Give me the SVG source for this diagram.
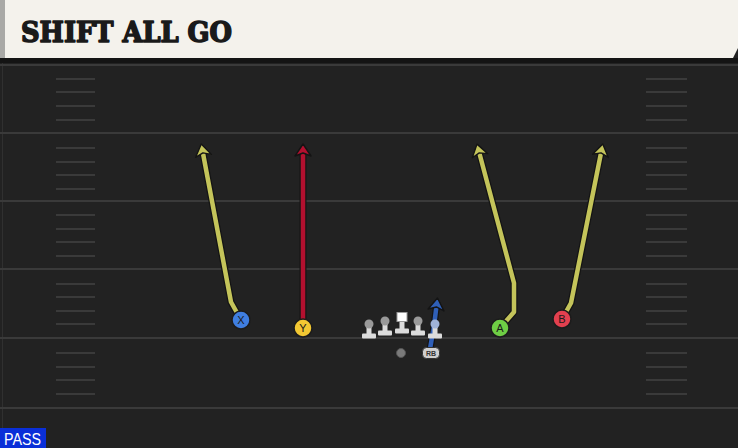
<svg xmlns="http://www.w3.org/2000/svg" width="738" height="448" viewBox="0 0 738 448">
  <style>
    .yard { stroke: #3a3a3a; stroke-width: 2; }
    .hash { stroke: #3a3a3a; stroke-width: 2; }
    .casing { fill: none; stroke: #141414; stroke-width: 7; stroke-linejoin: round; stroke-linecap: butt; }
    .route { fill: none; stroke-width: 4.5; stroke-linejoin: round; stroke-linecap: butt; }
    .olive { stroke: #c4c45a; }
    .red { stroke: #b3102f; }
    .blue { stroke: #2f5fb8; }
    .rcv { stroke: #1c1c1c; stroke-width: 1.5; }
    .rlabel { font-family: "Liberation Sans", Arial, sans-serif; font-size: 11px; fill: #1a1a1a; text-anchor: middle; }
    .lm { fill: #dcdcdc; }
    .head { fill: #9a9a9a; }
  </style>
  <defs>
    <marker id="hOlive" markerUnits="userSpaceOnUse" markerWidth="28" markerHeight="28" viewBox="-14 -14 28 28" refX="0" refY="0" orient="auto">
      <path d="M4,0 L-8,-8 L-5,0 L-8,8 z" fill="#c4c45a" stroke="#141414" stroke-width="1.4" stroke-linejoin="round"/>
    </marker>
    <marker id="hRed" markerUnits="userSpaceOnUse" markerWidth="28" markerHeight="28" viewBox="-14 -14 28 28" refX="0" refY="0" orient="auto">
      <path d="M4,0 L-8,-8 L-5,0 L-8,8 z" fill="#b3102f" stroke="#141414" stroke-width="1.4" stroke-linejoin="round"/>
    </marker>
    <marker id="hBlue" markerUnits="userSpaceOnUse" markerWidth="28" markerHeight="28" viewBox="-14 -14 28 28" refX="0" refY="0" orient="auto">
      <path d="M4,0 L-8,-8 L-5,0 L-8,8 z" fill="#2f5fb8" stroke="#141414" stroke-width="1.4" stroke-linejoin="round"/>
    </marker>
  </defs>

  <!-- field -->
  <rect x="0" y="0" width="738" height="448" fill="#222222"/>
  <line x1="2.5" y1="60" x2="2.5" y2="448" stroke="#303030" stroke-width="1"/>
  <g id="yardlines">
    <line class="yard" x1="0" y1="65" x2="738" y2="65"/>
    <line class="yard" x1="0" y1="133" x2="738" y2="133"/>
    <line class="yard" x1="0" y1="201" x2="738" y2="201"/>
    <line class="yard" x1="0" y1="269" x2="738" y2="269"/>
    <line class="yard" x1="0" y1="338" x2="738" y2="338"/>
    <line class="yard" x1="0" y1="408" x2="738" y2="408"/>
  </g>
  <g id="hashes">
    <path class="hash" d="M56,79H95M56,92H95M56,106H95M56,120H95M56,148H95M56,162H95M56,175H95M56,189H95M56,215H95M56,229H95M56,242H95M56,256H95M56,284H95M56,297H95M56,311H95M56,324H95M56,353H95M56,367H95M56,380H95M56,394H95"/>
    <path class="hash" d="M646,79H687M646,92H687M646,106H687M646,120H687M646,148H687M646,162H687M646,175H687M646,189H687M646,215H687M646,229H687M646,242H687M646,256H687M646,284H687M646,297H687M646,311H687M646,324H687M646,353H687M646,367H687M646,380H687M646,394H687"/>
  </g>

  <!-- header -->
  <g id="header">
    <rect x="0" y="58" width="738" height="5" fill="#141414"/>
    <path d="M0,0 H738 V48 L733,58 H0 Z" fill="#f4f2ec"/>
    <rect x="0" y="0" width="5" height="58" fill="#a9a9a6"/>
    <text x="21" y="42" font-family="'DejaVu Serif', 'Liberation Serif', serif" font-weight="bold" font-size="28" fill="#1a1a1a" stroke="#1a1a1a" stroke-width="1.6" stroke-linejoin="round" textLength="211" lengthAdjust="spacingAndGlyphs">SHIFT ALL GO</text>
  </g>

  <!-- connectors -->
  <g id="routes">
    <path class="casing" d="M241,320 L231,302 L202,148"/>
    <path class="route olive" d="M241,320 L231,302 L202,148" marker-end="url(#hOlive)"/>
    <path class="casing" d="M303,320 L303,148"/>
    <path class="route red" d="M303,320 L303,148" marker-end="url(#hRed)"/>
    <path class="casing" d="M500,328 L514,312 L514,283 L478,148"/>
    <path class="route olive" d="M500,328 L514,312 L514,283 L478,148" marker-end="url(#hOlive)"/>
    <path class="casing" d="M562,319 L571,303 L602,148"/>
    <path class="route olive" d="M562,319 L571,303 L602,148" marker-end="url(#hOlive)"/>
    <path class="casing" d="M430,349 L434,326 L437,302"/>
    <path class="route blue" d="M430,349 L434,326 L437,302" marker-end="url(#hBlue)"/>
  </g>

  <!-- offensive line -->
  <g id="LT">
    <rect class="lm" x="366.5" y="324" width="5" height="11"/>
    <rect class="lm" x="362" y="333.5" width="14" height="5" rx="1"/>
    <circle class="head" cx="369" cy="324" r="4.5"/>
  </g>
  <g id="LG">
    <rect class="lm" x="382.5" y="321" width="5" height="11"/>
    <rect class="lm" x="378" y="330.5" width="14" height="5" rx="1"/>
    <circle class="head" cx="385" cy="321" r="4.5"/>
  </g>
  <g id="C">
    <rect class="lm" x="399.5" y="320" width="5" height="10"/>
    <rect class="lm" x="395" y="328.5" width="14" height="5" rx="1"/>
    <rect x="397" y="312.5" width="10" height="9" fill="#ffffff" stroke="#9a9a9a" stroke-width="1"/>
  </g>
  <g id="RG">
    <rect class="lm" x="415.5" y="321" width="5" height="11"/>
    <rect class="lm" x="411" y="330.5" width="14" height="5" rx="1"/>
    <circle class="head" cx="418" cy="321" r="4.5"/>
  </g>
  <g id="RT">
    <rect class="lm" x="432.5" y="324" width="5" height="11"/>
    <rect class="lm" x="428" y="333.5" width="14" height="5" rx="1"/>
    <circle cx="435" cy="324" r="4.5" fill="#9fb3d8"/>
  </g>
  <g id="QB">
    <circle cx="401" cy="353" r="4.5" fill="#7a7a7a" stroke="#555" stroke-width="1"/>
  </g>
  <g id="RB">
    <rect x="422.5" y="347.5" width="17" height="11" rx="4" fill="#cfcfcf" stroke="#333" stroke-width="1"/>
    <text x="431" y="356" font-family="'Liberation Sans', Arial, sans-serif" font-size="7" font-weight="bold" fill="#333" text-anchor="middle">RB</text>
  </g>

  <!-- receivers -->
  <g id="X">
    <circle class="rcv" cx="241" cy="320" r="9" fill="#3f7ee0"/>
    <text class="rlabel" x="241" y="324">X</text>
  </g>
  <g id="Y">
    <circle class="rcv" cx="303" cy="328" r="9" fill="#f2c833"/>
    <text class="rlabel" x="303" y="332">Y</text>
  </g>
  <g id="A">
    <circle class="rcv" cx="500" cy="328" r="9" fill="#6fce45"/>
    <text class="rlabel" x="500" y="332">A</text>
  </g>
  <g id="B">
    <circle class="rcv" cx="562" cy="319" r="9" fill="#e2404f"/>
    <text class="rlabel" x="562" y="323">B</text>
  </g>

  <!-- play type -->
  <g id="pass">
    <rect x="0" y="428" width="46" height="20" fill="#0a2fd8"/>
    <text x="4" y="445" font-family="'Liberation Sans', Arial, sans-serif" font-size="16" fill="#ffffff" textLength="37" lengthAdjust="spacingAndGlyphs">PASS</text>
  </g>
</svg>
